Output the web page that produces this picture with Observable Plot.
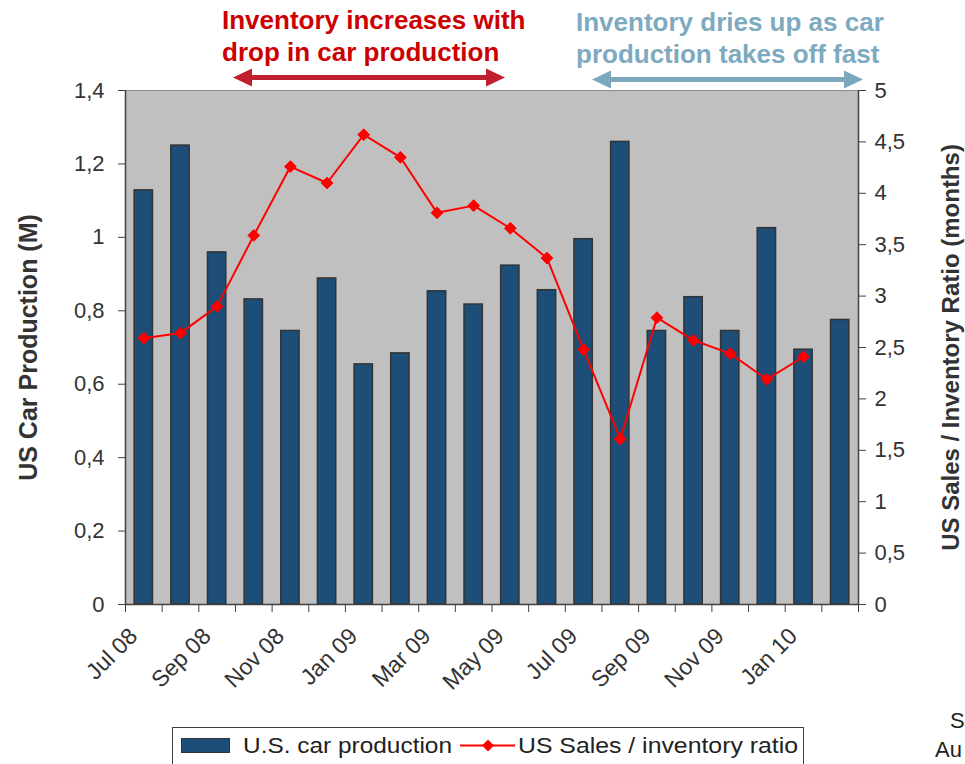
<!DOCTYPE html>
<html><head><meta charset="utf-8">
<script src="https://cdn.jsdelivr.net/npm/d3@7"></script>
<script src="https://cdn.jsdelivr.net/npm/@observablehq/plot@0.6"></script>
<style>
html,body{margin:0;padding:0;background:#fff;width:965px;height:764px;overflow:hidden;position:relative;font-family:"Liberation Sans",Arial,sans-serif;}
#chart{position:absolute;left:0;top:0;}
#overlay{position:absolute;left:0;top:0;pointer-events:none;}
</style></head><body>
<div id="chart"></div>
<svg id="overlay" width="965" height="764" font-family="Liberation Sans, Arial, sans-serif"></svg>
<script>
const months = ["Jul 08","Aug 08","Sep 08","Oct 08","Nov 08","Dec 08","Jan 09","Feb 09","Mar 09","Apr 09","May 09","Jun 09","Jul 09","Aug 09","Sep 09","Oct 09","Nov 09","Dec 09","Jan 10","Feb 10"];
const production = [1.128,1.250,0.959,0.831,0.745,0.888,0.654,0.684,0.853,0.817,0.923,0.856,0.995,1.260,0.745,0.837,0.745,1.025,0.694,0.775];
const ratio = [2.59,2.64,2.90,3.59,4.26,4.10,4.57,4.35,3.81,3.88,3.66,3.37,2.48,1.61,2.79,2.57,2.44,2.19,2.41,null];
const leftTicks = [0,0.2,0.4,0.6,0.8,1,1.2,1.4];
const rightTicks = [0,0.5,1,1.5,2,2.5,3,3.5,4,4.5,5];
const leftMax = 1.4, rightMax = 5;
const leftTitle = "US Car Production (M)";
const rightTitle = "US Sales / Inventory Ratio (months)";
const seriesNames = ["U.S. car production", "US Sales / inventory ratio"];
const noteRed = ["Inventory increases with", "drop in car production"];
const noteBlue = ["Inventory dries up as car", "production takes off fast"];

const fmt = v => String(Math.round(v * 100) / 100).replace(".", ",");
const rows = months.map((m, i) => ({i, m, p: production[i], r: ratio[i]}));
const lineRows = rows.filter(d => d.r != null);
const labelRows = rows.filter(d => d.i % 2 === 0);
const toLeft = v => v * leftMax / rightMax;

const chart = Plot.plot({
  width: 965, height: 764,
  marginLeft: 125, marginRight: 107, marginTop: 90, marginBottom: 160,
  style: {fontFamily: "Liberation Sans, Arial, sans-serif", fontSize: "22px", color: "#333", background: "transparent"},
  x: {type: "linear", domain: [0, months.length]},
  y: {domain: [0, leftMax]},
  marks: [
    Plot.frame({fill: "#C0C0C0", stroke: "#8c8c8c"}),
    Plot.rectY(rows, {x1: d => d.i + 0.25, x2: d => d.i + 0.75, y: "p", fill: "#1C4E77", stroke: "#333", strokeWidth: 1.5}),
    Plot.ruleX([0, months.length], {stroke: "#404040", strokeWidth: 1.5}),
    Plot.ruleY([0], {stroke: "#404040", strokeWidth: 1.5}),
    Plot.axisY(leftTicks, {anchor: "left", tickSize: 7, tickPadding: 14, tickFormat: fmt, label: null, fontSize: 22, stroke: "#404040", fill: "#333"}),
    Plot.axisY(rightTicks.map(toLeft), {anchor: "right", tickSize: 7, tickPadding: 9, tickFormat: d => fmt(d * rightMax / leftMax), label: null, fontSize: 22, stroke: "#404040", fill: "#333"}),
    Plot.axisX(d3.range(0, months.length + 1), {anchor: "bottom", tickSize: 8, tickFormat: () => "", label: null, stroke: "#404040"}),
    Plot.text(labelRows, {x: d => d.i + 0.5, text: "m", frameAnchor: "bottom", rotate: -45, textAnchor: "end", lineAnchor: "top", dx: -16.5, dy: 21.5, fontSize: 23, fill: "#333"}),
    Plot.line(lineRows, {x: d => d.i + 0.5, y: d => toLeft(d.r), stroke: "#FF0000", strokeWidth: 2}),
    Plot.dot(lineRows, {x: d => d.i + 0.5, y: d => toLeft(d.r), symbol: "diamond2", r: 5.3, fill: "#FF0000", stroke: "#FF0000", strokeWidth: 1}),
    Plot.text([leftTitle], {frameAnchor: "left", textAnchor: "middle", lineAnchor: "middle", rotate: -90, dx: -97, fontWeight: "bold", fontSize: 25, fill: "#333"}),
    Plot.text([rightTitle], {frameAnchor: "right", textAnchor: "middle", lineAnchor: "middle", rotate: -90, dx: 93, fontWeight: "bold", fontSize: 24, fill: "#333"})
  ]
});
document.getElementById("chart").appendChild(chart);

// Overlay annotations and legend
const ov = d3.select("#overlay");
function note(lines, x, y, color) {
  const t = ov.append("text").attr("x", x).attr("y", y).attr("fill", color)
    .attr("font-size", 26).attr("font-weight", "bold");
  lines.forEach((l, k) => t.append("tspan").attr("x", x).attr("dy", k ? 32 : 0).text(l));
}
note(noteRed, 222, 29, "#CC0000");
note(noteBlue, 576, 31, "#7EAABF");

function dblArrow(x1, x2, y, color) {
  const hl = 19, hh = 9, sh = 2.5;
  ov.append("polygon").attr("fill", color).attr("points", [
    [x1, y], [x1 + hl, y - hh], [x1 + hl, y - sh], [x2 - hl, y - sh], [x2 - hl, y - hh], [x2, y],
    [x2 - hl, y + hh], [x2 - hl, y + sh], [x1 + hl, y + sh], [x1 + hl, y + hh]
  ].map(p => p.join(",")).join(" "));
}
dblArrow(233, 505, 77.5, "#C01F2D");
dblArrow(592, 863, 79.5, "#7BA8BD");

// legend
const lg = ov.append("g");
lg.append("rect").attr("x", 172.5).attr("y", 727.5).attr("width", 631).attr("height", 50).attr("fill", "#fff").attr("stroke", "#404040");
lg.append("rect").attr("x", 181.5).attr("y", 738.5).attr("width", 48).attr("height", 14).attr("fill", "#1C4E77").attr("stroke", "#333");
lg.append("text").attr("x", 243).attr("y", 753).attr("font-size", 22).attr("fill", "#222")
  .attr("textLength", 209).attr("lengthAdjust", "spacingAndGlyphs").text(seriesNames[0]);
lg.append("line").attr("x1", 460).attr("x2", 515).attr("y1", 745.5).attr("y2", 745.5).attr("stroke", "#FF0000").attr("stroke-width", 2);
lg.append("path").attr("d", d3.symbol(d3.symbolDiamond2, 90)()).attr("transform", "translate(488,745.5)").attr("fill", "#FF0000");
lg.append("text").attr("x", 518).attr("y", 753).attr("font-size", 22).attr("fill", "#222")
  .attr("textLength", 280).attr("lengthAdjust", "spacingAndGlyphs").text(seriesNames[1]);

// clipped source note at the bottom right
ov.append("text").attr("x", 950).attr("y", 728).attr("font-size", 22).attr("fill", "#222").text("S");
ov.append("text").attr("x", 935).attr("y", 757).attr("font-size", 22).attr("fill", "#222").text("Au");
</script>
</body></html>
